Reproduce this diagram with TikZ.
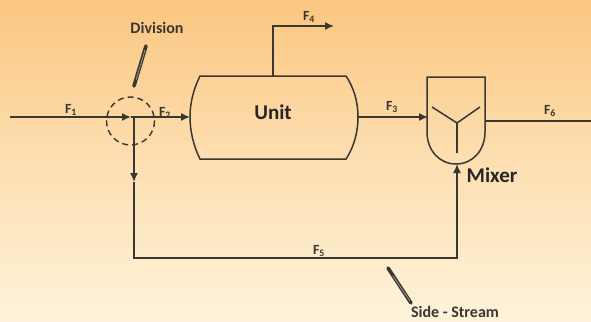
\documentclass[tikz,border=0pt]{standalone}
\usepackage{fontspec}
\setmainfont{Carlito}
\usetikzlibrary{arrows.meta}
\definecolor{ink}{HTML}{3A3630}
\definecolor{bgtop}{HTML}{FBC680}
\definecolor{bgbot}{HTML}{FEF3DA}
\tikzset{
  flow/.style={draw=ink,line width=1.5pt},
  tip/.style={-{Latex[length=9pt,width=8pt]}},
  lab/.style={text=ink,font=\bfseries\fontsize{14}{16}\selectfont,inner sep=0pt},
  big/.style={text=black!85,font=\bfseries\fontsize{21}{24}\selectfont,inner sep=0pt},
  call/.style={text=ink,font=\bfseries\fontsize{16}{18}\selectfont,inner sep=0pt},
  pin/.style={draw=ink,line width=3.6pt,line cap=round},
  pinin/.style={draw=bgbot!40!gray,line width=.6pt}
}
\begin{document}
\begin{tikzpicture}[x=1pt,y=-1pt]
\useasboundingbox (0,0) rectangle (591,321);
\shade[top color=bgtop,bottom color=bgbot,middle color=bgtop!45!bgbot] (0,0) rectangle (591,321);
% named points
\coordinate (in) at (10,117);
\coordinate (split) at (134,117);
\coordinate (uL) at (190,117);
\coordinate (uTop) at (273,76);
\coordinate (f4a) at (273,26);
\coordinate (f4b) at (334,26);
\coordinate (uR) at (358,117);
\coordinate (mL) at (428,117);
\coordinate (mR) at (485,121);
\coordinate (out) at (591,121);
\coordinate (mB) at (457,164);
\coordinate (c1) at (134,258);
\coordinate (c2) at (457,258);
\coordinate (d1) at (146,46);
\coordinate (d2) at (134,86);
\coordinate (s1) at (388,268);
\coordinate (s2) at (411,303);
% unit
\draw[flow] (200,76) -- (346,76) .. controls (354,88) and (358,102) .. (358,117)
  .. controls (358,132) and (354,147) .. (346,159) -- (200,159)
  .. controls (194,147) and (190,132) .. (190,117)
  .. controls (190,102) and (194,88) .. (200,76) -- cycle;
% mixer
\draw[flow] (427,77) -- (485,77) -- (485,132) .. controls (485,150) and (473,164) .. (456,164)
  .. controls (439,164) and (427,150) .. (427,132) -- cycle;
\draw[flow] (432,107) -- (457,123) -- (480,107);
\draw[flow] (457,123) -- (457,153);
% division circle
\draw[ink,line width=1.4pt,dash pattern=on 6pt off 4pt] (130.5,121) circle[radius=24];
% streams
\draw[flow,tip] (in) -- (131,117);
\draw[flow,tip] (131,117) -- (uL);
\draw[flow,tip] (uTop) -- (f4a) -- (f4b);
\draw[flow,tip] (uR) -- (mL);
\draw[flow] (mR) -- (out);
\draw[flow,tip] (split) -- (134,182);
\draw[flow,tip] (134,182) -- (c1) -- (c2) -- (mB);
% pointers
\draw[pin] (d1) -- (d2);
\draw[pinin] (145,50) -- (136,80);
\draw[pin] (s1) -- (s2);
\draw[pinin] (393,276) -- (410,301);
% labels
\node[lab] (F1) at (71,110) {F\textsubscript{1}};
\node[lab] (F2) at (165,113) {F\textsubscript{2}};
\node[lab] (F3) at (392,107) {F\textsubscript{3}};
\node[lab] (F4) at (309,17) {F\textsubscript{4}};
\node[lab] (F5) at (319,251) {F\textsubscript{5}};
\node[lab] (F6) at (550,111) {F\textsubscript{6}};
\node[big] (unit) at (273,112) {Unit};
\node[big] (mixer) at (492,175) {Mixer};
\node[call] (division) at (157,28) {Division};
\node[call] (side) at (455,312) {Side - Stream};
\end{tikzpicture}
\end{document}
